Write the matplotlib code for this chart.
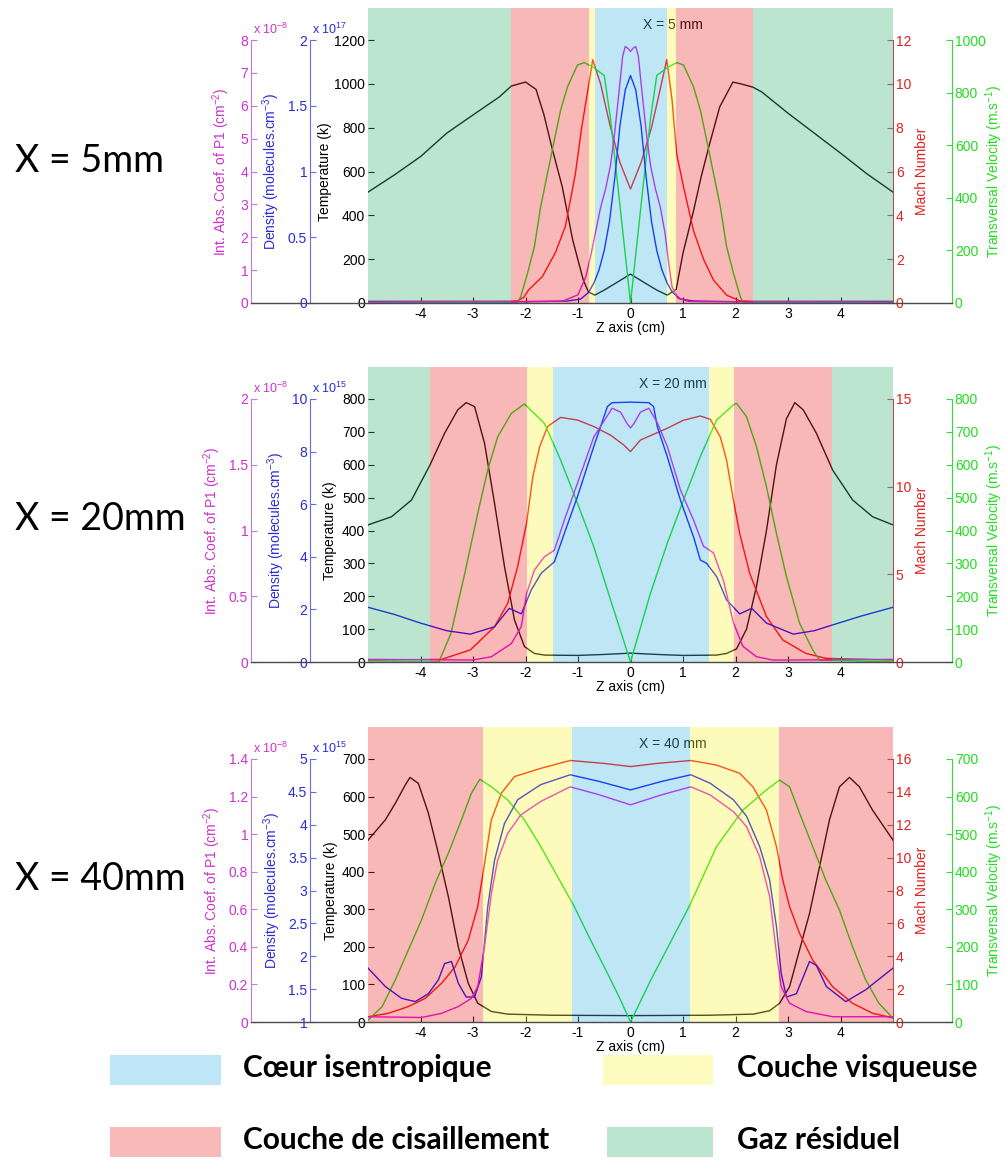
import matplotlib
matplotlib.use('Agg')
import matplotlib.pyplot as plt
from matplotlib.patches import Rectangle
from matplotlib.lines import Line2D
from matplotlib.ticker import FormatStrFormatter, MultipleLocator

plt.rcParams['font.family'] = ['Liberation Sans', 'DejaVu Sans']
plt.rcParams['mathtext.fontset'] = 'custom'
plt.rcParams['mathtext.rm'] = 'Liberation Sans'
plt.rcParams['mathtext.it'] = 'Liberation Sans:italic'
plt.rcParams['mathtext.bf'] = 'Liberation Sans:bold'
plt.rcParams['axes.unicode_minus'] = False

# ---------------- data : X = 5 mm ----------------
Z5_T = [-5, -4.5, -4, -3.5, -3, -2.5, -2.27, -2.0, -1.8, -1.65, -1.5, -1.3, -1.1, -1.0, -0.9, -0.8, -0.68, -0.5, -0.25, 0,
        0.25, 0.5, 0.7, 0.87, 1.0, 1.2, 1.35, 1.5, 1.7, 1.95, 2.1, 2.33, 2.5, 3, 3.5, 4, 4.5, 5]
T5 = [506, 584, 668, 775, 858, 940, 990, 1008, 975, 860, 712, 530, 287, 196, 105, 50, 36, 59, 95, 132,
      95, 59, 36, 62, 228, 420, 580, 720, 895, 1008, 1000, 985, 963, 866, 775, 684, 590, 506]
Z5_D = [-5, -2, -1.2, -0.95, -0.8, -0.7, -0.6, -0.5, -0.4, -0.3, -0.2, -0.1, 0, 0.1, 0.2, 0.3, 0.4, 0.5, 0.6, 0.7,
        0.8, 0.95, 1.2, 2, 5]
D5 = [0.01, 0.01, 0.015, 0.03, 0.08, 0.15, 0.25, 0.4, 0.62, 0.95, 1.35, 1.62, 1.73, 1.62, 1.35, 0.95, 0.62, 0.4, 0.25, 0.15,
      0.08, 0.03, 0.015, 0.01, 0.01]
Z5_A = [-5, -1.3, -1.0, -0.85, -0.75, -0.66, -0.57, -0.47, -0.38, -0.3, -0.22, -0.15, -0.1, -0.05, 0, 0.05, 0.1, 0.15,
        0.22, 0.3, 0.38, 0.47, 0.57, 0.66, 0.72, 0.79, 0.9, 1.1, 1.4, 5]
A5 = [0.03, 0.05, 0.25, 0.8, 1.5, 2.2, 2.9, 3.5, 4.2, 5.2, 6.4, 7.5, 7.8, 7.75, 7.65, 7.75, 7.8, 7.5,
      6.4, 5.2, 4.2, 3.5, 2.9, 2.1, 1.3, 0.5, 0.15, 0.05, 0.04, 0.03]
Z5_M = [-5, -2.3, -2.15, -2.03, -1.94, -1.68, -1.43, -1.24, -1.05, -0.93, -0.8, -0.72, -0.57, -0.4, -0.2, 0, 0.2, 0.4,
        0.57, 0.69, 0.79, 0.88, 1.01, 1.2, 1.39, 1.58, 1.83, 2.08, 2.3, 5]
M5 = [0.08, 0.08, 0.1, 0.27, 0.6, 1.2, 2.3, 3.5, 5.9, 8.0, 9.9, 11.1, 10.0, 8.2, 6.4, 5.2, 6.4, 8.0,
      9.8, 11.1, 9.3, 6.8, 5.3, 3.3, 2.0, 1.05, 0.36, 0.1, 0.08, 0.08]
Z5_V = [-5, -2.2, -2.14, -2.09, -1.96, -1.83, -1.71, -1.58, -1.45, -1.33, -1.2, -1.01, -0.88, -0.7, -0.5, -0.38, -0.2, 0,
        0.2, 0.38, 0.5, 0.7, 0.88, 1.01, 1.2, 1.33, 1.45, 1.58, 1.71, 1.83, 1.96, 2.09, 2.14, 2.2, 5]
V5 = [0, 0, 5, 25, 114, 215, 367, 494, 620, 734, 822, 905, 914, 895, 865, 700, 370, 0,
      370, 700, 865, 895, 914, 905, 822, 734, 620, 494, 367, 215, 114, 25, 5, 0, 0]

# ---------------- data : X = 20 mm ----------------
Z20_T = [-5, -4.55, -4.17, -3.82, -3.54, -3.29, -3.13, -2.97, -2.78, -2.59, -2.4, -2.21, -2.02, -1.83, -1.64, -1.0, -0.5, 0,
         0.5, 1.0, 1.64, 1.83, 2.02, 2.21, 2.4, 2.59, 2.78, 2.97, 3.13, 3.29, 3.54, 3.85, 4.23, 4.61, 5]
T20 = [417, 442, 493, 599, 696, 767, 789, 777, 665, 483, 290, 128, 47, 26, 21, 20, 23, 27,
       23, 20, 21, 26, 40, 100, 230, 400, 600, 740, 789, 767, 696, 584, 493, 442, 417]
Z20_D = [-5, -4.5, -4.0, -3.5, -3.05, -2.59, -2.31, -2.08, -1.89, -1.7, -1.45, -1.26, -1.01, -0.7, -0.44, -0.35, 0, 0.35,
         0.44, 0.51, 0.7, 0.95, 1.2, 1.33, 1.45, 1.64, 1.83, 2.08, 2.31, 2.59, 3.1, 3.5, 3.85, 4.4, 5]
D20 = [2.08, 1.81, 1.48, 1.19, 1.06, 1.34, 2.04, 1.83, 2.74, 3.38, 3.81, 4.89, 6.29, 8.19, 9.71, 9.86, 9.88, 9.86,
       9.71, 8.95, 7.81, 6.16, 4.76, 3.88, 3.75, 3.25, 2.36, 1.83, 2.04, 1.48, 1.06, 1.19, 1.41, 1.75, 2.08]
Z20_A = [-5, -3.0, -2.65, -2.27, -2.08, -1.98, -1.83, -1.64, -1.45, -1.26, -1.01, -0.7, -0.35, -0.19, -0.06, 0, 0.06,
         0.19, 0.35, 0.51, 0.7, 0.95, 1.2, 1.39, 1.58, 1.77, 1.96, 2.14, 2.4, 2.71, 3.0, 5]
A20 = [0.02, 0.015, 0.04, 0.14, 0.27, 0.52, 0.70, 0.80, 0.85, 1.08, 1.36, 1.71, 1.93, 1.90, 1.81, 1.78, 1.81,
       1.90, 1.93, 1.82, 1.64, 1.31, 1.08, 0.88, 0.83, 0.62, 0.30, 0.12, 0.04, 0.015, 0.015, 0.02]
Z20_M = [-5, -3.6, -3.05, -2.59, -2.34, -2.15, -1.98, -1.86, -1.73, -1.58, -1.33, -1.01, -0.7, -0.38, -0.13, 0, 0.19,
         0.7, 1.0, 1.33, 1.52, 1.71, 1.83, 1.96, 2.08, 2.27, 2.59, 2.9, 3.34, 3.72, 5]
M20 = [0.11, 0.15, 0.69, 2.01, 3.34, 5.44, 7.91, 10.58, 12.28, 13.43, 13.95, 13.8, 13.43, 12.94, 12.38, 12.0, 12.66,
       13.33, 13.78, 14.03, 13.84, 12.84, 11.51, 9.24, 7.33, 5.06, 2.59, 1.26, 0.49, 0.21, 0.11]
Z20_V = [-5, -3.65, -3.42, -3.17, -2.91, -2.72, -2.53, -2.27, -2.02, -1.64, -1.33, -1.01, -0.7, -0.38, 0, 0.38, 0.7,
         1.01, 1.33, 1.64, 1.96, 2.02, 2.21, 2.4, 2.59, 2.78, 2.97, 3.22, 3.47, 3.6, 5]
V20 = [0, 0, 87, 260, 452, 584, 685, 756, 785, 726, 614, 483, 351, 189, 0, 209, 361,
       493, 625, 736, 782, 787, 746, 655, 533, 391, 260, 118, 37, 6, 0]

# ---------------- data : X = 40 mm ----------------
Z40_T = [-5, -4.67, -4.48, -4.29, -4.2, -4.04, -3.85, -3.66, -3.47, -3.28, -3.09, -2.91, -2.65, -2.34, -1.5, 0, 1.5,
         2.34, 2.65, 2.84, 3.03, 3.22, 3.41, 3.6, 3.79, 3.98, 4.17, 4.36, 4.61, 5]
T40 = [484, 538, 582, 631, 651, 635, 556, 449, 334, 200, 103, 50, 28, 21, 18, 17, 18,
       21, 30, 50, 94, 192, 289, 413, 538, 626, 651, 626, 564, 484]
Z40_D = [-5, -4.67, -4.36, -4.1, -3.85, -3.66, -3.54, -3.41, -3.28, -3.13, -2.97, -2.84, -2.72, -2.59, -2.4, -2.15,
         -1.71, -1.15, -0.6, 0, 0.6, 1.15, 1.52, 1.96, 2.21, 2.46, 2.65, 2.78, 2.87, 2.97, 3.16, 3.41, 3.54, 3.73, 4.1,
         4.48, 5]
D40 = [1.82, 1.54, 1.36, 1.31, 1.43, 1.64, 1.89, 1.92, 1.59, 1.38, 1.38, 1.69, 2.75, 3.46, 4.02, 4.38,
       4.61, 4.76, 4.66, 4.53, 4.66, 4.76, 4.63, 4.38, 4.13, 3.67, 3.16, 2.45, 1.74, 1.38, 1.43, 1.92, 1.86, 1.54, 1.31,
       1.49, 1.82]
Z40_A = [-5, -3.98, -3.6, -3.28, -3.03, -2.91, -2.78, -2.65, -2.53, -2.34, -2.09, -1.71, -1.15, -0.6, 0, 0.6, 1.15,
         1.52, 1.96, 2.21, 2.46, 2.65, 2.78, 2.87, 3.03, 3.34, 3.85, 5]
A40 = [0.028, 0.024, 0.046, 0.082, 0.126, 0.188, 0.40, 0.686, 0.862, 1.004, 1.102, 1.174, 1.252, 1.21, 1.156, 1.21,
       1.252, 1.208, 1.12, 1.04, 0.88, 0.668, 0.366, 0.188, 0.10, 0.056, 0.028, 0.028]
Z40_M = [-5, -4.61, -4.23, -3.91, -3.6, -3.34, -3.09, -2.91, -2.78, -2.65, -2.46, -2.21, -1.71, -1.15, -0.5, 0, 0.5,
         1.15, 1.64, 2.08, 2.33, 2.59, 2.78, 2.9, 3.03, 3.22, 3.47, 3.85, 4.23, 4.61, 5]
M40 = [0.32, 0.53, 0.94, 1.44, 2.35, 3.36, 4.98, 7.02, 9.65, 12.3, 13.92, 14.93, 15.43, 15.91, 15.73, 15.54, 15.73,
       15.91, 15.63, 15.13, 14.31, 12.89, 10.67, 8.64, 7.02, 5.39, 3.77, 2.15, 1.14, 0.53, 0.25]
Z40_V = [-5, -4.73, -4.48, -4.23, -3.98, -3.72, -3.47, -3.22, -3.03, -2.87, -2.65, -2.34, -2.02, -1.71, -1.39, -1.07,
         -0.76, -0.44, -0.19, 0, 0.38, 1.13, 1.64, 2.14, 2.59, 2.84, 3.03, 3.22, 3.47, 3.72, 3.98, 4.23, 4.48, 4.73, 5]
V40 = [5, 41, 112, 192, 272, 369, 449, 538, 609, 646, 626, 591, 538, 467, 387, 307,
       218, 130, 59, 0, 110, 311, 467, 564, 618, 644, 626, 556, 467, 378, 298, 200, 112, 50, 10]

# ---------------- zones ----------------
EDGES5 = [-5, -2.28, -0.80, -0.68, 0.70, 0.86, 2.33, 5]
ZONES5 = ['gaz', 'cis', 'visq', 'coeur', 'visq', 'cis', 'gaz']
EDGES20 = [-5, -3.81, -1.98, -1.47, 1.49, 1.98, 3.83, 5]
ZONES20 = ['gaz', 'cis', 'visq', 'coeur', 'visq', 'cis', 'gaz']
EDGES40 = [-5, -2.81, -1.11, 1.13, 2.83, 5]
ZONES40 = ['cis', 'visq', 'coeur', 'visq', 'cis']

PANEL_TITLES = ['X = 5 mm', 'X = 20 mm', 'X = 40 mm']
SIDE_LABELS = ['X = 5mm', 'X = 20mm', 'X = 40mm']
LEGEND_NAMES = ['Cœur isentropique', 'Couche visqueuse', 'Couche de cisaillement', 'Gaz résiduel']
X_TICKS = [-4, -3, -2, -1, 0, 1, 2, 3, 4]

# overlay colours (alpha-blended) & legend colours
OVL = {'coeur': (72/255, 184/255, 229/255), 'visq': (249/255, 244/255, 60/255),
       'cis': (235/255, 52/255, 52/255), 'gaz': (63/255, 181/255, 121/255)}
LEG = {'coeur': '#bfe6f6', 'visq': '#fdfbbd', 'cis': '#f8b9b9', 'gaz': '#bce5cf'}
OVL_ALPHA = 0.35

C_T, C_D, C_A, C_M, C_V = 'black', '#0000ff', '#e000ee', '#ff0000', '#00e000'
LC_D, LC_A, LC_M, LC_V = '#2b2bd6', '#cc33cc', '#e02020', '#22dd22'
SC_D, SC_A, SC_M, SC_V = '#6a6af0', '#cc77dd', '#b05050', '#33dd33'

FW, FH = 1006, 1172
fig = plt.figure(figsize=(FW / 100, FH / 100), dpi=100)

AXL, AXR = 368, 893
AXW = AXR - AXL
OFF_A = (251 - AXL) / AXW
OFF_D = (310 - AXL) / AXW
OFF_V = (952 - AXL) / AXW


def fx(p):
    return p / FW


def fy(p):
    return 1 - p / FH


def style_y(a, color):
    a.tick_params(axis='y', direction='in', length=4, width=0.8, labelsize=10, pad=2,
                  colors=color, labelcolor=color)


def panel(top, bottom, edges, zones, series, lims, title, dexp, aexp, labx, side_label):
    rect = [fx(AXL), fy(bottom), AXW / FW, (bottom - top) / FH]
    ax = fig.add_axes(rect)
    ax.set_xlim(-5, 5)
    (zT, T), (zD, D), (zA, A), (zM, M), (zV, V) = series
    (tmax, tstep), (dmin, dmax, dstep), (amax, astep), (mmax, mstep), (vmax, vstep) = lims

    # temperature (main)
    ax.plot(zT, T, color=C_T, lw=1.0)
    ax.set_ylim(0, tmax)
    ax.yaxis.set_major_locator(MultipleLocator(tstep))
    ax.yaxis.set_major_formatter(FormatStrFormatter('%g'))
    for s in ['top', 'right', 'left', 'bottom']:
        ax.spines[s].set_visible(False)
    ax.tick_params(axis='y', direction='in', length=4, width=0.8, labelsize=10, pad=2)
    ax.set_xticks(X_TICKS)
    ax.tick_params(axis='x', direction='in', length=4, width=0.8, labelsize=10, pad=3)
    ax.set_xlabel('Z axis (cm)', fontsize=10, labelpad=0)
    ax.set_ylabel('Temperature (k)', fontsize=10)
    ax.yaxis.set_label_coords(labx[2], 0.5)
    ax.text(0.58, 1.057, title, transform=ax.transAxes, ha='center', va='center', fontsize=10)

    # Mach
    am = ax.twinx()
    am.plot(zM, M, color=C_M, lw=1.0)
    am.set_ylim(0, mmax)
    am.set_yticks([v * mstep for v in range(int(round(mmax / mstep)) + 1)])
    am.yaxis.set_major_formatter(FormatStrFormatter('%g'))
    for s in ['top', 'left', 'bottom']:
        am.spines[s].set_visible(False)
    am.spines['right'].set_color(SC_M)
    style_y(am, SC_M)
    am.tick_params(axis='y', labelcolor=LC_M)
    am.set_ylabel('Mach Number', color=LC_M, fontsize=10)
    am.yaxis.set_label_coords(labx[3], 0.5)

    # transversal velocity
    av = ax.twinx()
    av.plot(zV, V, color=C_V, lw=1.0)
    av.set_ylim(0, vmax)
    av.yaxis.set_major_locator(MultipleLocator(vstep))
    av.yaxis.set_major_formatter(FormatStrFormatter('%g'))
    for s in ['top', 'left', 'bottom']:
        av.spines[s].set_visible(False)
    av.spines['right'].set_position(('axes', OFF_V))
    av.spines['right'].set_color(SC_V)
    style_y(av, SC_V)
    av.tick_params(axis='y', labelcolor=LC_V)
    av.set_ylabel('Transversal Velocity (m.s$^{-1}$)', color=LC_V, fontsize=10)
    av.yaxis.set_label_coords(labx[4], 0.5)

    # density
    ad = ax.twinx()
    ad.plot(zD, D, color=C_D, lw=1.0)
    ad.set_ylim(dmin, dmax)
    ad.yaxis.set_major_locator(MultipleLocator(dstep))
    ad.yaxis.set_major_formatter(FormatStrFormatter('%g'))
    for s in ['top', 'right', 'bottom']:
        ad.spines[s].set_visible(False)
    ad.spines['left'].set_visible(True)
    ad.spines['left'].set_position(('axes', OFF_D))
    ad.spines['left'].set_color(SC_D)
    ad.yaxis.set_ticks_position('left')
    ad.yaxis.set_label_position('left')
    style_y(ad, SC_D)
    ad.tick_params(axis='y', labelcolor=LC_D)
    ad.set_ylabel('Density (molecules.cm$^{-3}$)', color=LC_D, fontsize=10)
    ad.yaxis.set_label_coords(labx[1], 0.5)
    ax.text(OFF_D + 0.003, 1.012, dexp, transform=ax.transAxes, ha='left', va='bottom',
            fontsize=9, color=LC_D)

    # integrated absorption coefficient
    aa = ax.twinx()
    aa.plot(zA, A, color=C_A, lw=1.0)
    aa.set_ylim(0, amax)
    aa.yaxis.set_major_locator(MultipleLocator(astep))
    aa.yaxis.set_major_formatter(FormatStrFormatter('%g'))
    for s in ['top', 'right', 'bottom']:
        aa.spines[s].set_visible(False)
    aa.spines['left'].set_visible(True)
    aa.spines['left'].set_position(('axes', OFF_A))
    aa.spines['left'].set_color(SC_A)
    aa.yaxis.set_ticks_position('left')
    aa.yaxis.set_label_position('left')
    style_y(aa, SC_A)
    aa.tick_params(axis='y', labelcolor=LC_A)
    aa.set_ylabel('Int. Abs. Coef. of P1 (cm$^{-2}$)', color=LC_A, fontsize=10)
    aa.yaxis.set_label_coords(labx[0], 0.5)
    ax.text(OFF_A + 0.003, 1.012, aexp, transform=ax.transAxes, ha='left', va='bottom',
            fontsize=9, color=LC_A)

    # coloured region overlay (drawn on top, semi-transparent)
    ov = fig.add_axes(rect)
    ov.set_xlim(-5, 5)
    ov.set_ylim(0, 1)
    ov.axis('off')
    for z0, z1, zn in zip(edges[:-1], edges[1:], zones):
        ov.axvspan(z0, z1, ymin=0, ymax=1.12, facecolor=OVL[zn], alpha=OVL_ALPHA, lw=0, clip_on=False)

    # long bottom axis line
    fig.add_artist(Line2D([fx(251), fx(952)], [fy(bottom), fy(bottom)], color='#4a4a4a', lw=1.0))

    fig.text(fx(15), fy((top + bottom) / 2 - 11), side_label, fontsize=27, family='Lato',
             ha='left', va='center')


panel(40, 303, EDGES5, ZONES5,
      [(Z5_T, T5), (Z5_D, D5), (Z5_A, A5), (Z5_M, M5), (Z5_V, V5)],
      [(1200, 200), (0, 2, 0.5), (8, 1), (12, 2), (1000, 200)],
      PANEL_TITLES[0], 'x $10^{17}$', 'x $10^{-8}$',
      [-0.259, -0.164, -0.0686, 1.042, 1.172], SIDE_LABELS[0])
panel(399, 662, EDGES20, ZONES20,
      [(Z20_T, T20), (Z20_D, D20), (Z20_A, A20), (Z20_M, M20), (Z20_V, V20)],
      [(800, 100), (0, 10, 2), (2, 0.5), (15, 5), (800, 100)],
      PANEL_TITLES[1], 'x $10^{15}$', 'x $10^{-8}$',
      [-0.276, -0.154, -0.059, 1.042, 1.172], SIDE_LABELS[1])
panel(759, 1022, EDGES40, ZONES40,
      [(Z40_T, T40), (Z40_D, D40), (Z40_A, A40), (Z40_M, M40), (Z40_V, V40)],
      [(700, 100), (1, 5, 0.5), (1.4, 0.2), (16, 2), (700, 100)],
      PANEL_TITLES[2], 'x $10^{15}$', 'x $10^{-8}$',
      [-0.276, -0.162, -0.057, 1.042, 1.172], SIDE_LABELS[2])

# ---------------- legend ----------------
leg_items = [('coeur', 110, 111, 1055, 243, LEGEND_NAMES[0]),
             ('visq', 603, 110, 1055, 737, LEGEND_NAMES[1]),
             ('cis', 110, 111, 1127, 243, LEGEND_NAMES[2]),
             ('gaz', 607, 106, 1127, 737, LEGEND_NAMES[3])]
for zn, bx, bw, by, tx, name in leg_items:
    fig.add_artist(Rectangle((fx(bx), fy(by + 30)), fx(bw), 30 / FH,
                             transform=fig.transFigure, facecolor=LEG[zn], edgecolor='none'))
    fig.text(fx(tx), fy(by + 13), name, fontsize=21.5, family='Lato', weight='bold',
             ha='left', va='center')

fig.savefig('out.png', dpi=100)
